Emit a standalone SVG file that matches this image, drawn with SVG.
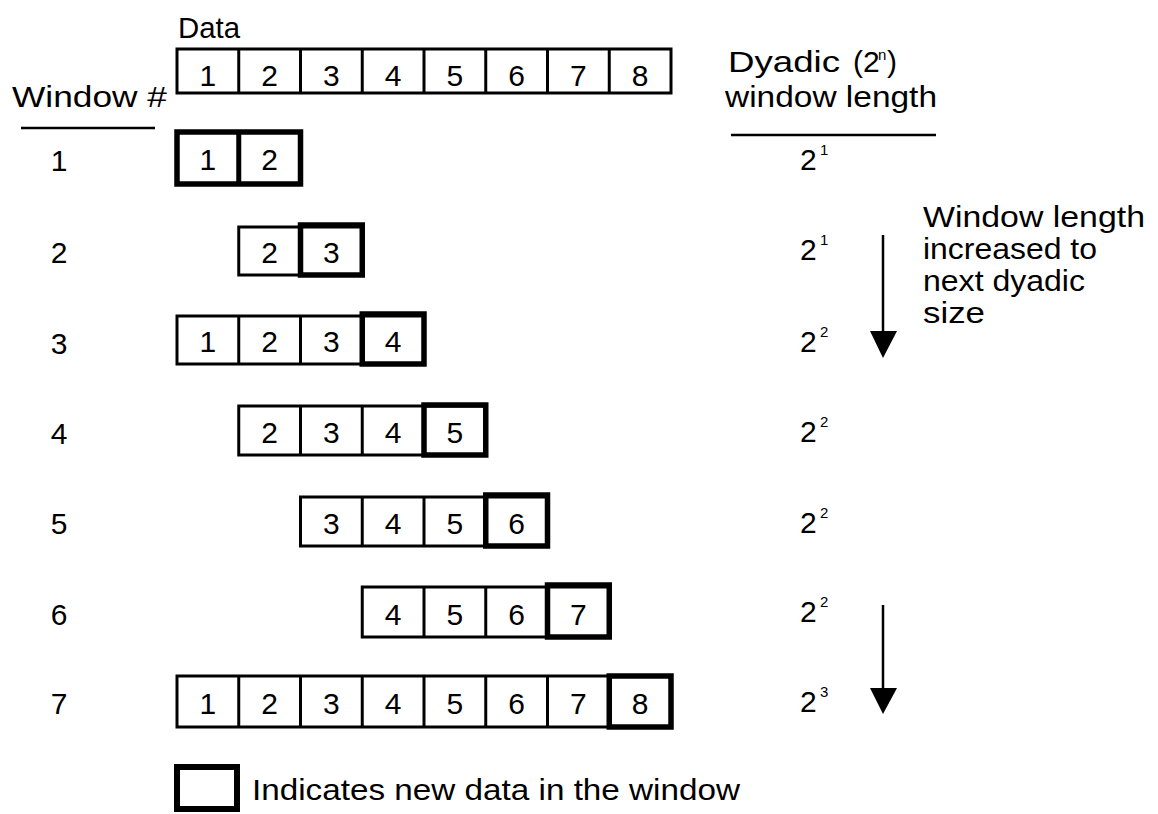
<svg xmlns="http://www.w3.org/2000/svg" width="1158" height="814" viewBox="0 0 1158 814">
<style>
text{font-family:"Liberation Sans",Arial,sans-serif;fill:#000;font-size:30px}
.d{text-anchor:middle;font-size:30px}
.thin{fill:#fff;stroke:#000;stroke-width:3}
.div{stroke:#000;stroke-width:3}
.thick{fill:none;stroke:#000;stroke-width:5.5}
.sup{font-size:15px}
.rule{stroke:#000;stroke-width:2.5}
</style>
<rect width="1158" height="814" fill="#fff"/>

<g id="headers">
<text x="178" y="38" textLength="62" lengthAdjust="spacingAndGlyphs">Data</text>
<text x="12" y="107" textLength="155" lengthAdjust="spacingAndGlyphs">Window #</text>
<line class="rule" x1="21" y1="128" x2="155" y2="128"/>
<text x="728" y="72" textLength="112" lengthAdjust="spacingAndGlyphs">Dyadic</text>
<text x="853" y="72">(2</text><text x="878" y="60" class="sup">n</text><text x="887" y="72">)</text>
<text x="725" y="107" textLength="212" lengthAdjust="spacingAndGlyphs">window length</text>
<line class="rule" x1="731" y1="135" x2="936" y2="135"/>
</g>

<g id="data-row">
<rect class="thin" x="177" y="49" width="494" height="44"/>
<line class="div" x1="238.75" y1="49" x2="238.75" y2="93"/>
<line class="div" x1="300.5" y1="49" x2="300.5" y2="93"/>
<line class="div" x1="362.25" y1="49" x2="362.25" y2="93"/>
<line class="div" x1="424" y1="49" x2="424" y2="93"/>
<line class="div" x1="485.75" y1="49" x2="485.75" y2="93"/>
<line class="div" x1="547.5" y1="49" x2="547.5" y2="93"/>
<line class="div" x1="609.25" y1="49" x2="609.25" y2="93"/>
<text class="d" x="207.9" y="86">1</text><text class="d" x="269.6" y="86">2</text><text class="d" x="331.4" y="86">3</text><text class="d" x="393.1" y="86">4</text><text class="d" x="454.9" y="86">5</text><text class="d" x="516.6" y="86">6</text><text class="d" x="578.4" y="86">7</text><text class="d" x="640.1" y="86">8</text>
</g>

<g id="window-1">
<text class="d" x="59" y="171">1</text>
<rect class="thin" x="177" y="132" width="123.5" height="52"/>
<rect class="thick" x="177" y="132" width="123.5" height="52"/>
<line class="div" x1="238.75" y1="132" x2="238.75" y2="184" style="stroke-width:5"/>
<text class="d" x="207.9" y="170">1</text><text class="d" x="269.6" y="170">2</text>
<text x="800" y="170">2</text><text x="820" y="155" class="sup">1</text>
</g>

<g id="window-2">
<text class="d" x="59" y="263">2</text>
<rect class="thin" x="238.75" y="227" width="123.5" height="48"/>
<line class="div" x1="300.5" y1="227" x2="300.5" y2="275"/>
<rect class="thick" x="300.5" y="225" width="61.75" height="50"/>
<text class="d" x="269.6" y="263">2</text><text class="d" x="331.4" y="263">3</text>
<text x="800" y="260">2</text><text x="820" y="245" class="sup">1</text>
</g>

<g id="window-3">
<text class="d" x="59" y="354">3</text>
<rect class="thin" x="177" y="316" width="247" height="48"/>
<line class="div" x1="238.75" y1="316" x2="238.75" y2="364"/>
<line class="div" x1="300.5" y1="316" x2="300.5" y2="364"/>
<rect class="thick" x="362.25" y="314" width="61.75" height="50"/>
<text class="d" x="207.9" y="352">1</text><text class="d" x="269.6" y="352">2</text><text class="d" x="331.4" y="352">3</text><text class="d" x="393.1" y="352">4</text>
<text x="800" y="352">2</text><text x="820" y="337" class="sup">2</text>
</g>

<g id="window-4">
<text class="d" x="59" y="444">4</text>
<rect class="thin" x="238.75" y="406" width="247" height="49"/>
<line class="div" x1="300.5" y1="406" x2="300.5" y2="455"/>
<line class="div" x1="362.25" y1="406" x2="362.25" y2="455"/>
<rect class="thick" x="424" y="405" width="61.75" height="50"/>
<text class="d" x="269.6" y="443">2</text><text class="d" x="331.4" y="443">3</text><text class="d" x="393.1" y="443">4</text><text class="d" x="454.9" y="443">5</text>
<text x="800" y="442">2</text><text x="820" y="427" class="sup">2</text>
</g>

<g id="window-5">
<text class="d" x="59" y="534">5</text>
<rect class="thin" x="300.5" y="497" width="247" height="49"/>
<line class="div" x1="362.25" y1="497" x2="362.25" y2="546"/>
<line class="div" x1="424" y1="497" x2="424" y2="546"/>
<rect class="thick" x="485.75" y="495" width="61.75" height="51"/>
<text class="d" x="331.4" y="534">3</text><text class="d" x="393.1" y="534">4</text><text class="d" x="454.9" y="534">5</text><text class="d" x="516.6" y="534">6</text>
<text x="800" y="533">2</text><text x="820" y="518" class="sup">2</text>
</g>

<g id="window-6">
<text class="d" x="59" y="625">6</text>
<rect class="thin" x="362.25" y="587" width="247" height="50"/>
<line class="div" x1="424" y1="587" x2="424" y2="637"/>
<line class="div" x1="485.75" y1="587" x2="485.75" y2="637"/>
<rect class="thick" x="547.5" y="585" width="61.75" height="52"/>
<text class="d" x="393.1" y="625">4</text><text class="d" x="454.9" y="625">5</text><text class="d" x="516.6" y="625">6</text><text class="d" x="578.4" y="625">7</text>
<text x="800" y="622">2</text><text x="820" y="607" class="sup">2</text>
</g>

<g id="window-7">
<text class="d" x="59" y="714">7</text>
<rect class="thin" x="177" y="676" width="494" height="51"/>
<line class="div" x1="238.75" y1="676" x2="238.75" y2="727"/>
<line class="div" x1="300.5" y1="676" x2="300.5" y2="727"/>
<line class="div" x1="362.25" y1="676" x2="362.25" y2="727"/>
<line class="div" x1="424" y1="676" x2="424" y2="727"/>
<line class="div" x1="485.75" y1="676" x2="485.75" y2="727"/>
<line class="div" x1="547.5" y1="676" x2="547.5" y2="727"/>
<rect class="thick" x="609.25" y="676" width="61.75" height="51"/>
<text class="d" x="207.9" y="714">1</text><text class="d" x="269.6" y="714">2</text><text class="d" x="331.4" y="714">3</text><text class="d" x="393.1" y="714">4</text><text class="d" x="454.9" y="714">5</text><text class="d" x="516.6" y="714">6</text><text class="d" x="578.4" y="714">7</text><text class="d" x="640.1" y="714">8</text>
<text x="800" y="712">2</text><text x="820" y="697" class="sup">3</text>
</g>

<g id="note">
<text x="923" y="227" textLength="222" lengthAdjust="spacingAndGlyphs">Window length</text>
<text x="923" y="259" textLength="174" lengthAdjust="spacingAndGlyphs">increased to</text>
<text x="923" y="291" textLength="162" lengthAdjust="spacingAndGlyphs">next dyadic</text>
<text x="923" y="323" textLength="62" lengthAdjust="spacingAndGlyphs">size</text>
</g>

<g id="connectors">
<line x1="883" y1="235" x2="883" y2="336" stroke="#000" stroke-width="2.5"/>
<polygon points="870,331 897,331 883,358" fill="#000"/>
<line x1="883" y1="605" x2="883" y2="692" stroke="#000" stroke-width="2.5"/>
<polygon points="870,688 897,688 883,714" fill="#000"/>
</g>

<g id="legend">
<rect x="177" y="767" width="60" height="42" fill="#fff" stroke="#000" stroke-width="6"/>
<text x="252" y="800" textLength="488" lengthAdjust="spacingAndGlyphs">Indicates new data in the window</text>
</g>
</svg>
